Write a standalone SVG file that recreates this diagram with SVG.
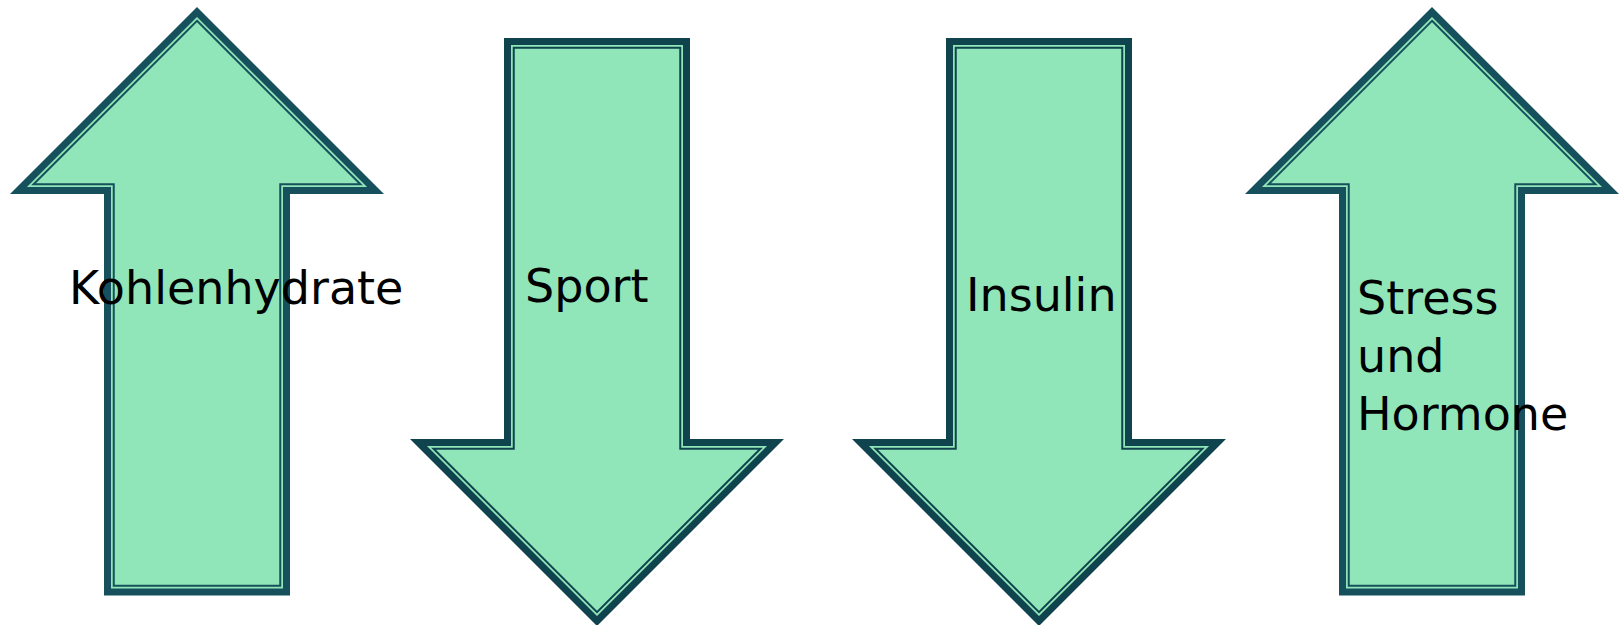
<svg xmlns="http://www.w3.org/2000/svg" xmlns:xlink="http://www.w3.org/1999/xlink" width="1619" height="625" viewBox="0 0 1619 625">
<style>
.body{fill:#90E6B8;stroke-width:7;stroke-linejoin:miter;stroke-miterlimit:10}
.up .body{stroke:#16505C}
.down .body{stroke:#0F434E}
.line{fill:none;stroke-width:2;stroke-linejoin:miter;stroke-miterlimit:10}
.up .line{stroke:#16505C}
.down .line{stroke:#0F434E}
.lbl{font-family:"DejaVu Sans",sans-serif;font-size:46px;fill:#000}
</style>
<defs>
<polygon id="upOuter" points="0,11.95 178.55,190.5 89.5,190.5 89.5,592 -89.5,592 -89.5,190.5 -178.55,190.5"/>
<polygon id="upInner" points="0,20.79 163.46,184.25 83.25,184.25 83.25,585.75 -83.25,585.75 -83.25,184.25 -163.46,184.25"/>
<polygon id="downOuter" points="-89.5,41.5 89.5,41.5 89.5,442.5 178.55,442.5 0,621.05 -178.55,442.5 -89.5,442.5"/>
<polygon id="downInner" points="-83.25,47.75 83.25,47.75 83.25,448.75 163.46,448.75 0,612.21 -163.46,448.75 -83.25,448.75"/>
</defs>
<g id="connectors"/>
<g id="kohlenhydrate" class="up">
<use xlink:href="#upOuter" href="#upOuter" class="body" transform="translate(197,0)"/>
<use xlink:href="#upInner" href="#upInner" class="line" transform="translate(197,0)"/>
<text class="lbl" x="69" y="304">Kohlenhydrate</text>
</g>
<g id="sport" class="down">
<use xlink:href="#downOuter" href="#downOuter" class="body" transform="translate(597,0)"/>
<use xlink:href="#downInner" href="#downInner" class="line" transform="translate(597,0)"/>
<text class="lbl" x="525" y="302">Sport</text>
</g>
<g id="insulin" class="down">
<use xlink:href="#downOuter" href="#downOuter" class="body" transform="translate(1039,0)"/>
<use xlink:href="#downInner" href="#downInner" class="line" transform="translate(1039,0)"/>
<text class="lbl" x="966" y="311">Insulin</text>
</g>
<g id="stress" class="up">
<use xlink:href="#upOuter" href="#upOuter" class="body" transform="translate(1432,0)"/>
<use xlink:href="#upInner" href="#upInner" class="line" transform="translate(1432,0)"/>
<text class="lbl" x="1357" y="314">Stress</text>
<text class="lbl" x="1357" y="372">und</text>
<text class="lbl" x="1357" y="430">Hormone</text>
</g>
</svg>
